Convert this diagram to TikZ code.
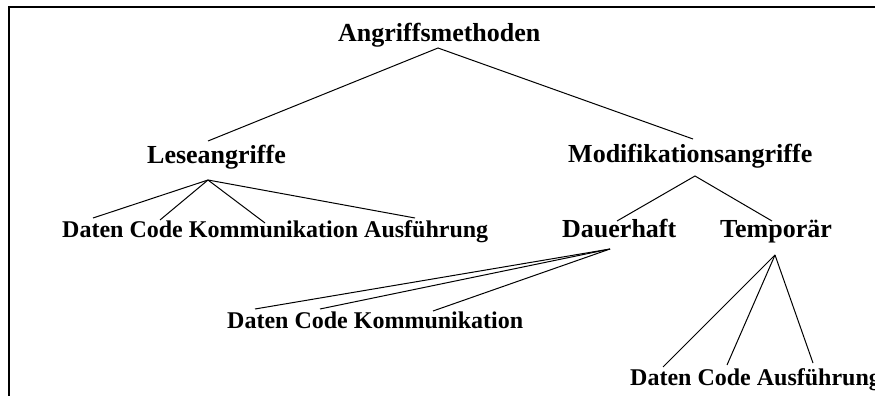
\documentclass[tikz,border=0pt]{standalone}
\usepackage{fontspec}
\setmainfont{Liberation Serif}
\begin{document}
\begin{tikzpicture}[x=1pt,y=-1pt,
  inner/.style={anchor=base west,inner sep=0pt,font=\fontsize{26}{30}\selectfont\bfseries},
  leaf/.style={anchor=base west,inner sep=0pt,font=\fontsize{24}{28}\selectfont\bfseries},
  edge/.style={line width=1pt},
  frame/.style={line width=2pt}]
\useasboundingbox (0,0) rectangle (875,396);
\clip (0,0) rectangle (875,396);
\draw[frame] (9,7) rectangle (900,420);

% labels
\node[inner] (root) at (338,42) {Angriffsmethoden};
\node[inner] (lese) at (147,163) {Leseangriffe};
\node[inner] (mod)  at (568,162) {Modifikationsangriffe};
\node[inner] (dauer) at (562,237) {Dauerhaft};
\node[inner] (temp) at (720,237) {Temporär};
\node[leaf] (leseL) at (62,237) {Daten Code Kommunikation Ausführung};
\node[leaf] (dauerL) at (227,328) {Daten Code Kommunikation};
\node[leaf] (tempL) at (630,385) {Daten Code Ausführung};

% attachment points
\coordinate (rootB) at (438,48);
\coordinate (leseT) at (208,141);
\coordinate (leseB) at (208,180);
\coordinate (modT) at (693,139);
\coordinate (modB) at (695,176);
\coordinate (dauerT) at (617,221);
\coordinate (dauerB) at (610,249);
\coordinate (tempT) at (772,221);
\coordinate (tempB) at (775,255);
\coordinate (l1) at (93,218);
\coordinate (l2) at (160,220);
\coordinate (l3) at (265,223);
\coordinate (l4) at (415,218);
\coordinate (d1) at (255,309);
\coordinate (d2) at (320,309);
\coordinate (d3) at (433,311);
\coordinate (t1) at (663,367);
\coordinate (t2) at (727,365);
\coordinate (t3) at (813,363);

% tree edges
\draw[edge] (leseT) -- (rootB) -- (modT);
\draw[edge] (leseB) -- (l1);
\draw[edge] (leseB) -- (l2);
\draw[edge] (leseB) -- (l3);
\draw[edge] (leseB) -- (l4);
\draw[edge] (dauerT) -- (modB) -- (tempT);
\draw[edge] (dauerB) -- (d1);
\draw[edge] (dauerB) -- (d2);
\draw[edge] (dauerB) -- (d3);
\draw[edge] (tempB) -- (t1);
\draw[edge] (tempB) -- (t2);
\draw[edge] (tempB) -- (t3);
\end{tikzpicture}
\end{document}
